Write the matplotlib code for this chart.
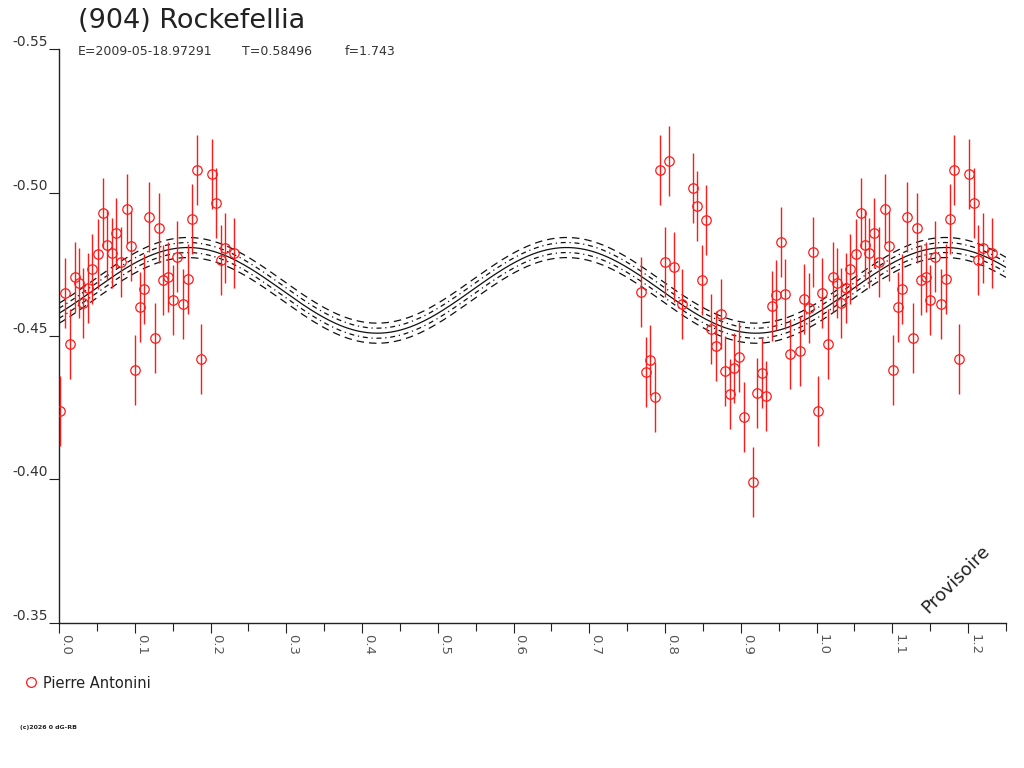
import matplotlib
matplotlib.use("Agg")
import matplotlib.pyplot as plt
import numpy as np
from matplotlib.lines import Line2D

plt.rcParams["font.family"] = ["DejaVu Sans"]

# observations: phase 0.00 - 0.23 (repeated at phase + 1)
phase_a = [0.0018, 0.0075, 0.0150, 0.0211, 0.0264, 0.0317, 0.0383, 0.0441, 0.0520,
           0.0580, 0.0639, 0.0695, 0.0752, 0.0818, 0.0897, 0.0950, 0.1008, 0.1069,
           0.1127, 0.1187, 0.1266, 0.1325, 0.1377, 0.1443, 0.1500, 0.1557, 0.1641,
           0.1707, 0.1760, 0.1817, 0.1879, 0.2015, 0.2077, 0.2137, 0.2190, 0.2314]
mag_a = [-0.4239, -0.4651, -0.4472, -0.4705, -0.4684, -0.4616, -0.4666, -0.4734, -0.4786,
         -0.4927, -0.4818, -0.4789, -0.4858, -0.4759, -0.4942, -0.4812, -0.4381, -0.4602,
         -0.4663, -0.4914, -0.4493, -0.4876, -0.4695, -0.4707, -0.4626, -0.4777, -0.4611,
         -0.4699, -0.4909, -0.5079, -0.4421, -0.5063, -0.4964, -0.4765, -0.4806, -0.4789]
err_a = [0.0122, 0.0122, 0.0122, 0.0122, 0.0122, 0.0122, 0.0122, 0.0122, 0.0122,
         0.0122, 0.0122, 0.0122, 0.0122, 0.0122, 0.0122, 0.0122, 0.0122, 0.0122,
         0.0122, 0.0122, 0.0122, 0.0122, 0.0122, 0.0122, 0.0122, 0.0122, 0.0122,
         0.0122, 0.0122, 0.0122, 0.0122, 0.0122, 0.0122, 0.0122, 0.0122, 0.0122]

# observations: phase 0.77 - 1.00
phase_b = [0.7687, 0.7749, 0.7806, 0.7863, 0.7938, 0.7997, 0.8057, 0.8113, 0.8228,
           0.8363, 0.8422, 0.8482, 0.8541, 0.8600, 0.8677, 0.8734, 0.8792, 0.8851,
           0.8908, 0.8970, 0.9044, 0.9161, 0.9214, 0.9277, 0.9336, 0.9412, 0.9468,
           0.9530, 0.9587, 0.9649, 0.9782, 0.9840, 0.9904, 0.9959]
mag_b = [-0.4655, -0.4376, -0.4416, -0.4288, -0.5078, -0.4758, -0.5110, -0.4740, -0.4611,
         -0.5014, -0.4954, -0.4694, -0.4905, -0.4525, -0.4466, -0.4577, -0.4377, -0.4298,
         -0.4388, -0.4428, -0.4218, -0.3991, -0.4302, -0.4372, -0.4292, -0.4604, -0.4644,
         -0.4826, -0.4645, -0.4436, -0.4448, -0.4628, -0.4599, -0.4791]
err_b = [0.0122, 0.0122, 0.0122, 0.0122, 0.0122, 0.0122, 0.0122, 0.0122, 0.0122,
         0.0122, 0.0122, 0.0122, 0.0122, 0.0122, 0.0122, 0.0122, 0.0122, 0.0122,
         0.0122, 0.0122, 0.0122, 0.0122, 0.0122, 0.0122, 0.0122, 0.0122, 0.0122,
         0.0122, 0.0122, 0.0122, 0.0122, 0.0122, 0.0122, 0.0122]

# Fourier model (2nd harmonic) and its uncertainty bands
fit_c0 = -0.4659
fit_a2 = 0.0080
fit_b2 = -0.0126
band_inner = 0.00175
band_outer = 0.0035

observer = "Pierre Antonini"
title = "(904) Rockefellia"
info = ["E=2009-05-18.97291", "T=0.58496", "f=1.743"]
y_ticks = [-0.55, -0.50, -0.45, -0.40, -0.35]
x_ticks = [0.0, 0.1, 0.2, 0.3, 0.4, 0.5, 0.6, 0.7, 0.8, 0.9, 1.0, 1.1, 1.2]

W, H = 1024, 768
fig = plt.figure(figsize=(W / 100, H / 100), dpi=100)
ax = fig.add_axes([59 / W, 1 - 623 / H, (1006 - 59) / W, (623 - 49) / H])

# model curve
ph = np.linspace(0, 1.25, 600)
model = fit_c0 + fit_a2 * np.cos(4 * np.pi * ph) + fit_b2 * np.sin(4 * np.pi * ph)
ax.plot(ph, model, color="#111111", lw=0.9)
for s in (-1, 1):
    ax.plot(ph, model + s * band_inner, color="#111111", lw=0.9, ls=(0, (4, 3, 1, 3)))
    ax.plot(ph, model + s * band_outer, color="#111111", lw=0.9, ls=(0, (6, 4)))

# observations, first part of the phase repeated after 1.0
pa = np.array(phase_a)
all_phase = np.concatenate([pa, np.array(phase_b), pa + 1.0])
all_mag = np.concatenate([mag_a, mag_b, mag_a])
all_err = np.concatenate([err_a, err_b, err_a])
ax.errorbar(all_phase, all_mag, yerr=all_err, fmt="o", ms=6.8, mfc="none",
            mec="#ff1a1a", mew=0.9, ecolor="#ff1a1a", elinewidth=1.0, capsize=0,
            zorder=5)

ax.set_xlim(0, 1.25)
ax.set_ylim(-0.35, -0.55)
for side in ("top", "right"):
    ax.spines[side].set_visible(False)
for side in ("left", "bottom"):
    ax.spines[side].set_color("#222222")
    ax.spines[side].set_linewidth(1.0)

ax.set_yticks(y_ticks)
ax.set_yticklabels([f"{v:.2f}" for v in y_ticks])
ax.tick_params(axis="y", length=7.2, width=0.8, color="#222222", pad=0.5,
               labelsize=10, labelcolor="#333333")
for lab in ax.get_yticklabels():
    lab.set_va("bottom")

ax.set_xticks(x_ticks)
ax.set_xticklabels([f"{v:.1f}" for v in x_ticks], rotation=-90)
ax.set_xticks(np.arange(0.05, 1.26, 0.1), minor=True)
ax.tick_params(axis="x", which="major", length=7.2, width=0.8, color="#222222",
               pad=1, labelsize=9.5, labelcolor="#555555")
ax.tick_params(axis="x", which="minor", length=5.8, width=0.8, color="#222222")
for lab in ax.get_xticklabels():
    lab.set_ha("left")

fig.text(78 / W, 1 - 28.5 / H, title, fontsize=19.5, color="#222222", va="baseline")
for xpos, txt in zip([78, 242, 345], info):
    fig.text(xpos / W, 1 - 55 / H, txt, fontsize=9, color="#333333", va="baseline")

handle = Line2D([], [], ls="none", marker="o", ms=7, mfc="none", mec="#ff1a1a", mew=0.9)
fig.legend([handle], [observer], loc="center left", bbox_to_anchor=(16 / W, 1 - 683 / H),
           frameon=False, borderpad=0, handlelength=1.0, handletextpad=0.35,
           fontsize=10.5, labelcolor="#222222")

fig.text(956 / W, 1 - 579 / H, "Provisoire", rotation=45, ha="center", va="center",
         fontsize=13, color="#222222")
fig.text(20 / W, 1 - 727 / H, "(c)2026 0 dG-RB", fontsize=4.5, fontweight="bold",
         color="#222222", va="center")

fig.savefig("out.png", dpi=100)
